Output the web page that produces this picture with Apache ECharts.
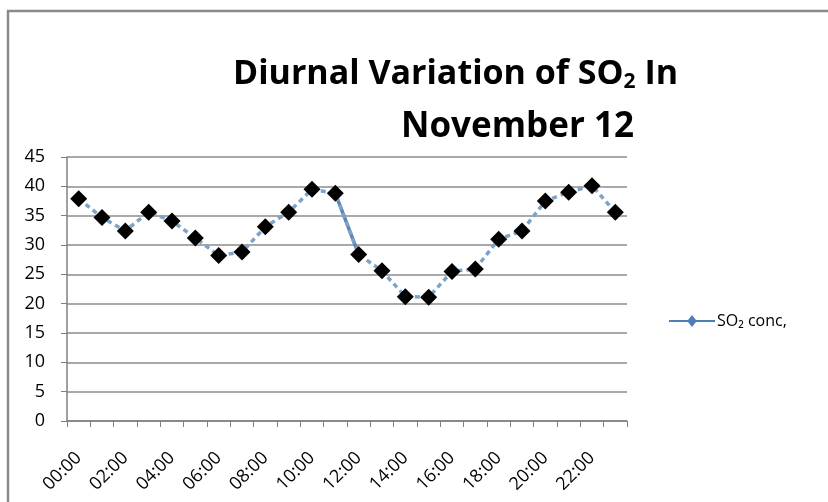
<!DOCTYPE html>
<html>
<head>
<meta charset="utf-8">
<script src="https://cdn.jsdelivr.net/npm/echarts@6/dist/echarts.min.js"></script>
<style>
  html, body { margin: 0; padding: 0; background: #fff; }
  #chart { width: 828px; height: 502px; }
</style>
</head>
<body>
<div id="chart"></div>
<script>
// hours of the day
var hours = ['00:00', '01:00', '02:00', '03:00', '04:00', '05:00', '06:00', '07:00',
    '08:00', '09:00', '10:00', '11:00', '12:00', '13:00', '14:00', '15:00',
    '16:00', '17:00', '18:00', '19:00', '20:00', '21:00', '22:00', '23:00'];

// SO2 conc.
var so2 = [37.9, 34.7, 32.4, 35.6, 34.1, 31.2, 28.2, 28.8, 33.1, 35.6, 39.5, 38.8,
    28.4, 25.6, 21.2, 21.1, 25.5, 25.9, 31.0, 32.4, 37.5, 39.0, 40.1, 35.6];

var yTicks = [0, 5, 10, 15, 20, 25, 30, 35, 40, 45];

// the 11:00 -> 12:00 step is drawn solid
var solidPart = so2.map(function (v, i) {
    return (i == 11 || i == 12) ? v : null;
});

var chart = echarts.init(document.getElementById('chart'));

var option = {
    backgroundColor: '#fff',
    animation: false,
    title: [{
        text: '{a|Diurnal Variation of SO}{s|2}{a| In}',
        left: 228,
        top: 51,
        textStyle: {
            rich: {
                a: { fontFamily: 'Open Sans', fontWeight: 'bold', fontSize: 34, color: '#000' },
                s: { fontFamily: 'Open Sans', fontWeight: 'bold', fontSize: 21, color: '#000', padding: [16, 0, 0, 0] }
            }
        }
    }, {
        text: 'November 12',
        left: 396,
        top: 105,
        textStyle: { fontFamily: 'Open Sans', fontWeight: 'bold', fontSize: 35, color: '#000' }
    }],
    legend: {
        data: [{ name: 'SO₂ conc,' }],
        left: 664,
        top: 308,
        itemWidth: 46,
        itemHeight: 12,
        itemGap: 0,
        textStyle: { fontFamily: 'Open Sans', fontSize: 16, color: '#000', padding: [0, 0, 0, -3] }
    },
    grid: {
        left: 67,
        top: 157,
        width: 560,
        height: 264
    },
    xAxis: {
        type: 'category',
        data: hours,
        boundaryGap: true,
        axisLine: { lineStyle: { color: '#808080', width: 1.5 } },
        axisTick: { show: true, interval: 0, length: 6, lineStyle: { color: '#808080' } },
        axisLabel: {
            interval: 1,
            rotate: 45,
            margin: 34,
            fontFamily: 'Open Sans',
            fontSize: 18,
            color: '#000'
        },
        splitLine: { show: false }
    },
    yAxis: {
        type: 'value',
        min: yTicks[0],
        max: yTicks[yTicks.length - 1],
        interval: 5,
        axisLine: { show: true, lineStyle: { color: '#808080', width: 1.5 } },
        axisTick: { show: true, length: 6, lineStyle: { color: '#808080' } },
        axisLabel: { fontFamily: 'Open Sans', fontSize: 18, color: '#000', margin: 22 },
        splitLine: { lineStyle: { color: '#8c8c8c', width: 1.5 } }
    },
    series: [{
        name: 'SO₂ conc,',
        type: 'line',
        data: so2,
        symbol: 'diamond',
        symbolSize: 17,
        showAllSymbol: true,
        itemStyle: { color: '#000' },
        lineStyle: { color: '#7ea3c8', width: 3.5, type: [5, 4] },
        z: 3
    }, {
        name: 'solid',
        type: 'line',
        data: solidPart,
        symbol: 'none',
        connectNulls: false,
        lineStyle: { color: '#5b86b8', width: 3.5 },
        z: 2
    }],
    graphic: [{
        type: 'polyline',
        shape: { points: [[8, 502], [8, 11], [828, 11]] },
        style: { stroke: '#8a8a8a', lineWidth: 2.5, fill: null }
    }]
};

chart.setOption(option);

// legend entry looks like the Excel one: blue line with blue diamond
chart.setOption({
    legend: {
        data: [{
            name: 'SO₂ conc,',
            icon: 'path://M0,5 L19,5 L23,0 L27,5 L46,5 L46,7 L27,7 L23,12 L19,7 L0,7 Z',
            itemStyle: { color: '#4f7fb8' }
        }]
    }
});
</script>
</body>
</html>
